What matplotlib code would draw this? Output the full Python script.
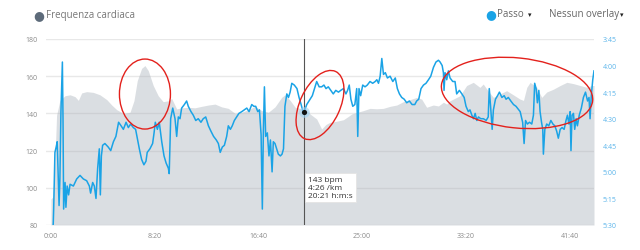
import matplotlib
matplotlib.use('Agg')
import matplotlib.pyplot as plt
import matplotlib.transforms as mt
from matplotlib.patches import Ellipse
from matplotlib.ticker import FixedLocator, FuncFormatter

plt.rcParams['font.family'] = ['Open Sans', 'DejaVu Sans']

# heart rate (s, bpm)
hr_t = [0, 8, 19, 27, 43, 68, 92, 116, 132, 148, 172, 204, 236, 269, 293, 317, 349, 381, 400, 416,
        437, 453, 469, 493, 517, 541, 566, 582, 606, 630, 662, 694, 727, 759, 791, 823, 855, 888, 920,
        952, 984, 1016, 1048, 1080, 1112, 1128, 1153, 1177, 1209, 1225, 1249, 1281, 1305, 1325, 1345,
        1378, 1410, 1434, 1450, 1474, 1506, 1538, 1570, 1602, 1635, 1667, 1699, 1731, 1763, 1787, 1811,
        1843, 1868, 1892, 1908, 1924, 1972, 2004, 2036, 2068, 2084, 2108, 2133, 2165, 2197, 2229, 2261,
        2278, 2294, 2310, 2342, 2366, 2390, 2422, 2455, 2487, 2519, 2551, 2583, 2607, 2618]
hr_bpm = [94, 95, 114, 139, 147, 149.5, 150, 149, 147, 151, 151.7, 151.3, 150, 147.4, 144.5, 142, 140,
          140.6, 146.8, 157.6, 164.2, 165.7, 163, 155, 149.5, 146.3, 146.8, 148, 142.4, 143, 143.3, 143,
          143.8, 144.5, 145, 143.5, 142.7, 140, 140.6, 142, 143.8, 141.5, 140.6, 143.5, 148.6, 150, 147,
          143.3, 142.4, 143, 139.7, 137, 131.6, 134, 135.2, 135.8, 136.6, 138.4, 139.7, 140.5, 141.5,
          142.7, 142.5, 142.7, 143.8, 144.5, 146.3, 147.4, 148.6, 147.7, 143.3, 144.5, 144, 146, 145,
          146.8, 149.5, 155, 156.7, 154, 155.8, 152, 148.6, 150.5, 152.2, 150, 147.7, 147, 154, 156.7,
          154, 148.6, 151.5, 153, 155, 156.7, 156, 155, 154, 155, 155]

# pace (s, s/km)
pace_t = [8, 11, 13, 19, 25, 30, 39, 43, 48, 55, 58, 61, 68, 72, 78, 85, 92, 108, 124, 140, 156, 172,
          185, 191, 201, 209, 217, 225, 233, 238, 243, 249, 260, 276, 288, 301, 313, 326, 338, 349, 362,
          373, 384, 397, 408, 416, 426, 437, 448, 458, 464, 477, 490, 497, 503, 513, 522, 534, 545, 555,
          566, 570, 577, 587, 598, 606, 614, 622, 630, 643, 654, 662, 675, 686, 698, 710, 723, 734, 746,
          759, 771, 784, 797, 807, 816, 826, 836, 847, 855, 865, 874, 884, 895, 906, 920, 932, 944, 955,
          968, 978, 987, 997, 1005, 1013, 1019, 1024, 1029, 1035, 1043, 1051, 1058, 1066, 1072, 1080,
          1088, 1096, 1106, 1114, 1121, 1128, 1137, 1145, 1153, 1161, 1173, 1186, 1196, 1206, 1215, 1221,
          1233, 1249, 1260, 1273, 1281, 1293, 1305, 1316, 1326, 1337, 1349, 1361, 1373, 1386, 1397, 1410,
          1422, 1430, 1438, 1446, 1455, 1465, 1474, 1479, 1485, 1493, 1503, 1514, 1525, 1538, 1551, 1563,
          1571, 1579, 1587, 1595, 1603, 1612, 1622, 1635, 1648, 1660, 1670, 1680, 1691, 1703, 1715, 1728,
          1741, 1754, 1763, 1773, 1784, 1796, 1808, 1820, 1831, 1844, 1856, 1868, 1876, 1886, 1892, 1895,
          1900, 1908, 1916, 1924, 1937, 1948, 1956, 1969, 1981, 1992, 2001, 2012, 2020, 2029, 2037, 2045,
          2053, 2061, 2072, 2085, 2098, 2108, 2113, 2120, 2127, 2133, 2143, 2153, 2162, 2174, 2185, 2194,
          2205, 2217, 2230, 2242, 2255, 2262, 2268, 2274, 2281, 2288, 2297, 2307, 2318, 2326, 2332, 2339,
          2345, 2352, 2358, 2365, 2371, 2374, 2381, 2390, 2400, 2410, 2420, 2429, 2438, 2446, 2455, 2464,
          2474, 2483, 2490, 2497, 2503, 2507, 2512, 2519, 2525, 2532, 2538, 2547, 2557, 2567, 2577, 2587,
          2594, 2599, 2605, 2612, 2618]
pace_s = [335, 329, 321, 289, 286, 283, 319, 304, 266, 238, 270, 321, 306, 320, 308, 313, 307, 308, 304,
          302, 304, 305, 308, 312, 306, 308, 315, 298, 287, 313, 291, 285, 284, 286, 288, 283, 280, 272,
          274, 276, 272, 275, 273, 275, 276, 281, 287, 293, 296, 294, 289, 287, 284, 278, 272, 276, 272,
          283, 291, 295, 298, 301, 270, 264, 270, 280, 269, 270, 264, 262, 260, 263, 266, 268, 271, 270,
          272, 270, 269, 274, 277, 280, 282, 284, 289, 286, 285, 280, 274, 276, 274, 271, 269, 267, 266,
          265, 264, 266, 262, 263, 263, 266, 265, 279, 321, 277, 252, 280, 278, 291, 282, 300, 283, 284,
          287, 290, 291, 290, 287, 263, 256, 258, 255, 250, 251, 253, 258, 262, 266, 266, 262, 259, 257,
          252, 249, 252, 252, 251, 253, 252, 254, 256, 254, 255, 254, 253, 256, 254, 251, 259, 263, 262,
          253, 280, 253, 257, 251, 252, 251, 249, 250, 249, 248, 250, 246, 236, 245, 244, 247, 246, 249,
          247, 253, 256, 258, 259, 261, 260, 262, 262, 260, 259, 253, 251, 250, 248, 246, 241, 238, 237,
          238, 240, 244, 254, 244, 248, 243, 247, 249, 249, 256, 254, 256, 258, 263, 266, 265, 268, 270,
          267, 271, 269, 270, 270, 271, 269, 253, 264, 276, 265, 259, 257, 255, 258, 257, 259, 258, 260,
          262, 263, 265, 266, 269, 272, 284, 271, 273, 272, 273, 268, 250, 253, 261, 254, 266, 272, 276,
          290, 276, 273, 274, 271, 273, 274, 277, 281, 276, 275, 276, 271, 268, 273, 266, 288, 268, 267,
          276, 270, 274, 268, 264, 258, 255, 260, 258, 270, 257, 248, 243]

x_ticks = [0, 500, 1000, 1500, 2000, 2500]
hr_ticks = [80, 100, 120, 140, 160, 180]
pace_ticks = [225, 240, 255, 270, 285, 300, 315, 330]

cursor_t = 1221
cursor_pace = 266
tooltip_lines = ['143 bpm', '4:26 /km', '20:21 h:m:s']

# hand drawn marks: centre (s, bpm), width/height in px, angle
marks = [(453, 150.4, 51, 70, 0), (1297, 144.5, 40, 74, -25), (2247, 151, 152, 70, -6)]


def mmss(v, pos=None):
    v = int(round(v))
    return f'{v // 60}:{v % 60:02d}'


fig = plt.figure(figsize=(6.4, 2.51), dpi=100)
ax = fig.add_axes([46/640, 25/251, 548/640, 186/251])
ax2 = ax.twinx()

ax.set_xlim(-24, 2618)
ax.set_ylim(80, 180)
ax.yaxis.set_major_locator(FixedLocator(hr_ticks))
ax.xaxis.set_major_locator(FixedLocator(x_ticks))
ax.xaxis.set_major_formatter(FuncFormatter(mmss))
ax.grid(axis='y', color='#e8e8e8', lw=1.0, zorder=0)
ax.set_axisbelow(True)
ax.fill_between(hr_t, 80, hr_bpm, color='#a9b1ba', alpha=0.42, lw=0, zorder=1)

ax2.set_ylim(330, 225)
ax2.yaxis.set_major_locator(FixedLocator(pace_ticks))
ax2.yaxis.set_major_formatter(FuncFormatter(mmss))
ax2.plot(pace_t, pace_s, color='#1aa3e6', lw=1.1, zorder=3)

for a in (ax, ax2):
    for s in a.spines.values():
        s.set_visible(False)
    a.tick_params(length=0, labelsize=5)
ax.tick_params(axis='y', colors='#8a8a8a', pad=6)
ax.tick_params(axis='x', colors='#8a8a8a', pad=5)
ax2.tick_params(axis='y', colors='#5ab4ea', pad=6)

# cursor
trans = mt.blended_transform_factory(ax.transData, ax.transAxes)
ax.plot([cursor_t, cursor_t], [0, 1], transform=trans, color='#555555', lw=0.8, zorder=4)
ax2.scatter([cursor_t], [cursor_pace], s=60, color='#9fd3f3', alpha=0.6, lw=0, zorder=5)
ax2.scatter([cursor_t], [cursor_pace], s=14, color='#111111', lw=0, zorder=6)
ax2.annotate('\n'.join(tooltip_lines), xy=(cursor_t, cursor_pace), xytext=(4, -64),
             textcoords='offset pixels', ha='left', va='top', fontsize=6, color='#333333',
             linespacing=1.25, zorder=7,
             bbox=dict(boxstyle='square,pad=0.35', fc='white', ec='#e4e4e4', lw=0.6))

for cx, cy, w, h, ang in marks:
    tr = fig.dpi_scale_trans + mt.ScaledTranslation(cx, cy, ax.transData)
    e = Ellipse((0, 0), w / 100, h / 100, angle=ang, transform=tr, fill=False,
                ec='#e3211c', lw=1.0, zorder=8, clip_on=False)
    fig.add_artist(e)

# header
fig.text(39/640, 1 - 16/251, '\u25cf', color='#5d6b7a', fontsize=9, ha='center', va='center')
fig.text(46/640, 1 - 16/251, 'Frequenza cardiaca', color='#777777', fontsize=7, ha='left', va='center')
fig.text(491/640, 1 - 15/251, '\u25cf', color='#1aa3e6', fontsize=9, ha='center', va='center')
fig.text(497/640, 1 - 15/251, 'Passo', color='#666666', fontsize=7, ha='left', va='center')
fig.text(530/640, 1 - 15/251, '\u25be', color='#222222', fontsize=5, ha='center', va='center',
         family='DejaVu Sans')
fig.text(549/640, 1 - 15/251, 'Nessun overlay', color='#666666', fontsize=7, ha='left', va='center')
fig.text(622/640, 1 - 15/251, '\u25be', color='#222222', fontsize=5, ha='center', va='center',
         family='DejaVu Sans')

fig.savefig('out.png', dpi=100)
